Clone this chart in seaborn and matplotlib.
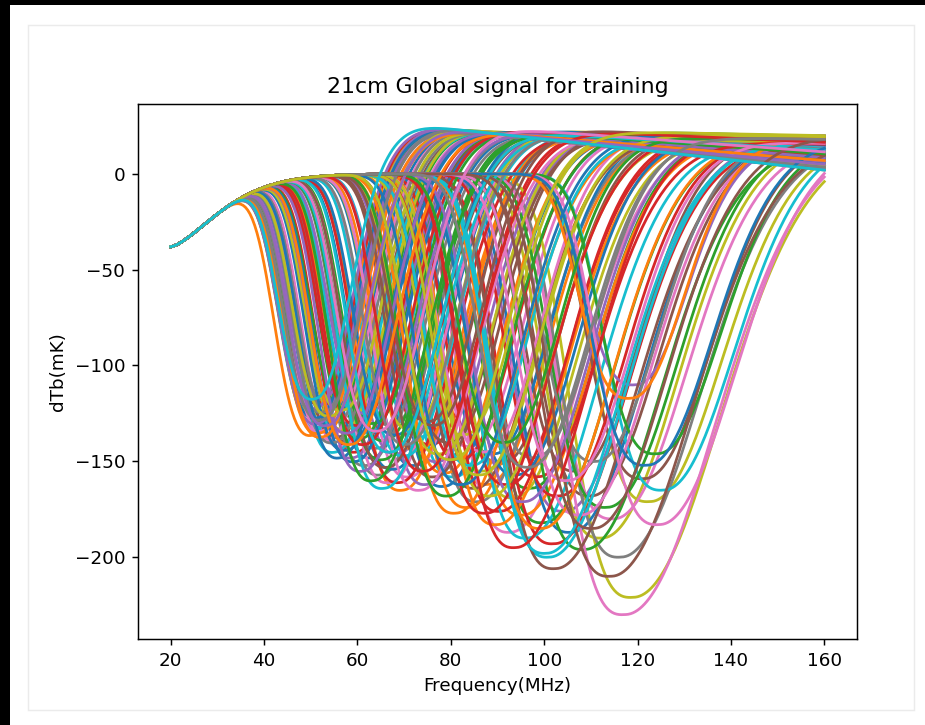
import numpy as np
import pandas as pd
import matplotlib
matplotlib.use("Agg")
import matplotlib.pyplot as plt
from matplotlib.patches import Rectangle
import seaborn as sns

# trough frequency (MHz) of each training curve
nu_min = [
    63.5, 88.2, 52.7, 76.4, 104.8, 58.3, 93.1, 67.9, 51.6, 81.2,
    72.8, 51.0, 97.6, 60.2, 55.1, 110.4, 84.7, 65.3, 123.0, 53.8,
    78.9, 61.7, 100.2, 52.3, 69.1, 91.4, 57.2, 86.3, 112.7, 74.2,
    54.6, 95.8, 66.4, 82.6, 59.4, 107.3, 71.5, 51.8, 119.3, 63.0,
    89.7, 70.0, 53.2, 102.5, 77.7, 56.4, 115.2, 62.4, 93.9, 52.1,
    68.3, 84.1, 58.9, 99.1, 75.3, 121.8, 52.6, 64.7, 87.4, 55.7,
    106.1, 73.4, 61.1, 91.0, 53.5, 80.3, 67.2, 116.7, 57.8, 96.7,
    51.9, 79.4, 109.0, 69.4, 62.9, 85.6, 54.3, 98.4, 72.1, 125.9,
    59.9, 90.3, 65.9, 103.6, 51.5, 76.9, 117.6, 56.0, 83.4, 70.7,
    94.6, 52.4, 113.8, 60.8, 120.0, 66.8, 87.9, 55.4, 78.2, 101.4,
    58.1, 81.5, 64.1, 92.7, 52.0, 102.7, 73.9, 111.5, 57.4, 85.0,
    68.8, 53.0, 124.6, 62.0, 96.1, 75.9, 108.2, 53.3, 89.0, 66.1,
    56.7, 99.8, 79.9, 88.0, 61.5, 114.6, 125.0, 71.1, 54.9, 100.8,
    83.0, 119.0, 63.8, 94.2, 58.6, 77.1, 105.5, 52.9, 86.8, 67.6,
    122.4, 59.1, 92.2, 74.8, 54.0, 110.9, 65.0, 97.2, 80.8, 51.4,
]

# trough depth (mK)
t_min = [
    -148, -162, -128, -141, -176, -139, -187, -131, -125, -158,
    -152, -136, -164, -145, -121, -168, -142, -157, -171, -133,
    -163, -127, -182, -119, -146, -151, -142, -171, -190, -137,
    -131, -178, -139, -149, -148, -155, -158, -129, -221, -135,
    -146, -165, -124, -193, -150, -137, -180, -152, -169, -132,
    -154, -174, -126, -158, -162, -159, -134, -143, -155, -145,
    -187, -144, -138, -176, -116, -140, -161, -200, -133, -190,
    -127, -156, -196, -161, -125, -164, -138, -148, -133, -165,
    -150, -183, -149, -168, -122, -158, -230, -129, -136, -147,
    -157, -135, -174, -131, -110, -153, -145, -140, -146, -200,
    -144, -177, -130, -162, -130, -206, -165, -150, -123, -152,
    -136, -137, -146, -141, -171, -129, -178, -124, -168, -164,
    -148, -185, -168, -177, -155, -210, -183, -141, -126, -198,
    -162, -117, -160, -195, -135, -131, -160, -128, -157, -145,
    -152, -141, -140, -155, -131, -185, -134, -153, -149, -117,
]

# emission level shortly after the trough (mK)
t_peak = [
    23.0, 20.5, 24.0, 22.5, 18.5, 23.5, 19.5, 22.0, 23.5, 21.5,
    23.0, 24.0, 19.0, 22.5, 23.0, 18.0, 21.0, 22.5, 17.0, 24.3,
    22.0, 23.0, 18.0, 23.8, 23.5, 20.0, 23.5, 21.0, 19.5, 22.5,
    23.0, 19.5, 22.0, 21.5, 24.0, 19.0, 23.0, 24.5, 18.0, 23.5,
    20.5, 22.0, 24.0, 17.5, 21.5, 23.0, 16.5, 23.5, 19.0, 24.0,
    22.5, 20.0, 22.5, 19.5, 23.0, 19.0, 23.0, 21.5, 20.5, 24.0,
    20.0, 22.5, 23.0, 21.0, 23.5, 22.0, 23.0, 17.5, 24.0, 18.5,
    23.5, 21.0, 17.0, 22.0, 22.5, 19.5, 24.0, 20.0, 23.5, 18.5,
    23.0, 19.5, 24.0, 18.5, 24.0, 21.5, 20.0, 23.5, 22.0, 23.0,
    20.0, 23.0, 18.5, 22.0, 16.0, 23.0, 21.5, 23.5, 22.5, 19.0,
    24.0, 21.0, 22.0, 20.5, 23.0, 18.0, 22.0, 19.0, 22.5, 20.0,
    23.5, 23.0, 17.0, 24.0, 20.5, 21.0, 18.5, 22.5, 19.0, 22.5,
    23.0, 19.0, 23.0, 21.0, 23.5, 18.0, 20.0, 22.0, 24.0, 17.5,
    22.0, 19.0, 23.0, 18.5, 23.0, 23.5, 18.0, 24.0, 20.5, 22.0,
    18.0, 22.5, 20.0, 23.0, 23.5, 19.5, 24.0, 19.5, 22.5, 24.5,
]

# emission level at 160 MHz (mK)
t_end = [
    9.0, 17.5, 4.0, 14.0, 17.0, 6.5, 18.0, 11.5, 3.0, 16.0,
    13.0, 3.5, 19.0, 8.0, 5.5, 18.0, 15.5, 10.0, 17.0, 4.5,
    16.5, 7.5, 16.5, 2.5, 12.0, 19.0, 6.0, 18.5, 19.5, 12.5,
    5.0, 15.0, 9.5, 17.0, 7.0, 19.0, 14.5, 2.0, 18.0, 8.5,
    19.5, 11.0, 3.5, 15.5, 15.0, 5.0, 16.5, 9.0, 14.0, 2.5,
    13.5, 14.5, 6.0, 18.5, 16.0, 19.0, 4.0, 10.5, 16.0, 7.0,
    20.0, 10.5, 8.0, 17.5, 3.0, 18.0, 12.0, 17.5, 5.5, 14.0,
    2.5, 13.5, 15.0, 14.0, 11.0, 15.5, 6.0, 20.0, 15.5, 18.5,
    7.5, 16.5, 10.0, 17.5, 3.0, 13.0, 20.0, 4.5, 19.0, 11.5,
    18.0, 3.0, 18.5, 9.5, 16.0, 12.5, 17.0, 5.5, 17.5, 19.0,
    8.0, 17.0, 9.0, 19.5, 2.5, 18.0, 14.0, 19.0, 6.5, 13.5,
    15.0, 4.0, 17.0, 10.0, 20.0, 12.0, 18.5, 3.5, 16.0, 11.0,
    5.5, 17.0, 19.5, 18.0, 8.5, 18.0, 20.0, 13.0, 4.5, 16.5,
    17.5, 19.0, 10.5, 15.5, 6.5, 17.0, 16.0, 3.5, 19.5, 12.5,
    18.0, 7.0, 17.0, 16.5, 5.0, 19.5, 11.5, 18.0, 20.0, 2.0,
]

freq = np.arange(20.0, 160.01, 0.5)

# dark-ages part shared by every curve (-38 mK at 20 MHz rising towards 0)
dark = -38.0 * np.exp(-((freq - 20.0) / 14.1) ** 1.5)

frames = []
for i, (nu0, tmin, tpk, tend) in enumerate(zip(nu_min, t_min, t_peak, t_end)):
    depth = -tmin
    s_left = 9.8 + 0.055 * (nu0 - 51) + 0.025 * (depth - 117)
    s_right = 11.0 + 0.078 * (nu0 - 51) + 0.1 * (depth - 117)
    nu_p = min(nu0 + 25.0, 150.0)
    emis = tpk + (tend - tpk) * (freq - nu_p) / (160.0 - nu_p)
    # switch from the dark-ages level to the emission level after the trough
    w = 0.5 * (1 + np.tanh((freq - nu0 - 0.6 * s_right) / (0.4 * s_right)))
    base = (1 - w) * dark + w * emis
    base0 = np.interp(nu0, freq, base)
    amp = base0 - tmin
    d = freq - nu0
    g = np.where(d < 0, np.exp(-(np.abs(d) / s_left) ** 3), np.exp(-(d / s_right) ** 2))
    frames.append(pd.DataFrame({"freq": freq, "dTb": base - amp * g, "curve": f"c{i:03d}"}))

df = pd.concat(frames, ignore_index=True)
order = [f"c{i:03d}" for i in range(len(nu_min))]
tab = sns.color_palette("tab10")
pal = {name: tab[i % 10] for i, name in enumerate(order)}

fig = plt.figure(figsize=(925 / 132, 725 / 132), dpi=132)

# screenshot frame around the notebook output
fig.patches.append(Rectangle((0, 1 - 5 / 725), 1, 5 / 725, transform=fig.transFigure,
                             facecolor="black", edgecolor="none"))
fig.patches.append(Rectangle((0, 0), 10 / 925, 1, transform=fig.transFigure,
                             facecolor="black", edgecolor="none"))
fig.patches.append(Rectangle((28 / 925, 15 / 725), 886 / 925, 685 / 725, transform=fig.transFigure,
                             facecolor="none", edgecolor="#ebebeb", linewidth=0.8))

ax = fig.add_axes([138 / 925, 86 / 725, 719 / 925, 535 / 725])
sns.lineplot(data=df, x="freq", y="dTb", hue="curve", hue_order=order, palette=pal,
             estimator=None, errorbar=None, sort=False, legend=False, linewidth=1.5, ax=ax)

ax.set_title("21cm Global signal for training")
ax.set_xlabel("Frequency(MHz)")
ax.set_ylabel("dTb(mK)")

fig.savefig("out.png", dpi=132)
